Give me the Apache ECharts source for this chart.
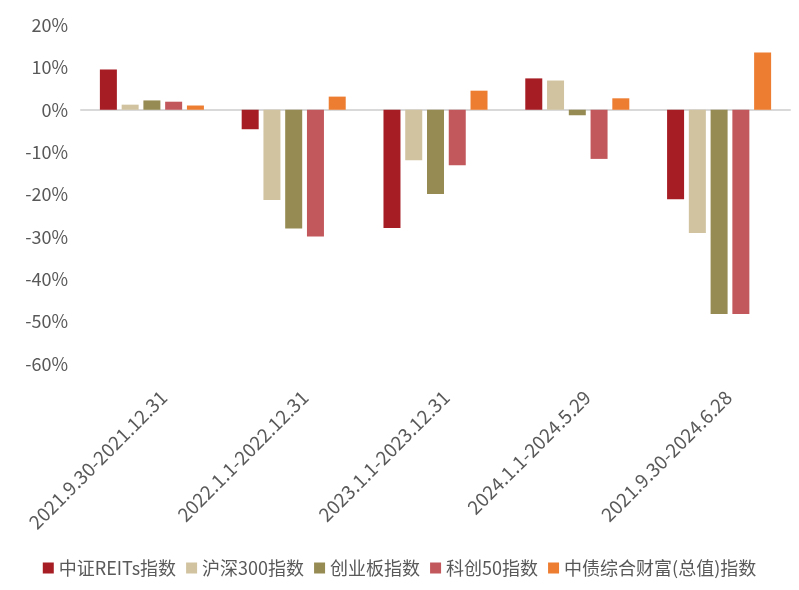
<!DOCTYPE html>
<html>
<head>
<meta charset="utf-8">
<script src="https://cdn.jsdelivr.net/npm/echarts@6/dist/echarts.min.js"></script>
<style>
  html, body { margin: 0; padding: 0; background: #fff; }
  #chart { width: 799px; height: 590px; }
</style>
</head>
<body>
<div id="chart"></div>
<script>
// periods on the x axis
const periods = ['2021.9.30-2021.12.31', '2022.1.1-2022.12.31', '2023.1.1-2023.12.31', '2024.1.1-2024.5.29', '2021.9.30-2024.6.28']

// returns in %
const reits = [9.5, -4.6, -27.9, 7.4, -21.1]
const hs300 = [1.2, -21.3, -11.9, 6.9, -29.1]
const chinext = [2.2, -28.0, -19.9, -1.3, -48.2]
const star50 = [1.9, -29.9, -13.1, -11.6, -48.2]
const bondIndex = [1.0, 3.1, 4.5, 2.7, 13.5]

const seriesNames = ['中证REITs指数', '沪深300指数', '创业板指数', '科创50指数', '中债综合财富(总值)指数']
const colors = ['#A61D24', '#D1C3A0', '#968B52', '#C3585C', '#ED7D31']
const values = [reits, hs300, chinext, star50, bondIndex]

const font = '"Noto Sans CJK SC", "Noto Sans", sans-serif'
const textColor = '#595959'

const chart = echarts.init(document.getElementById('chart'))

const option = {
  animation: false,
  color: colors,
  textStyle: { fontFamily: font },
  grid: [
    { left: 81, right: 9, top: 25, bottom: 226 },
    // only carries the rotated period labels, shifted a bit to the right
    { left: 93, right: -3, top: 25, bottom: 226 }
  ],
  legend: {
    data: seriesNames,
    left: 'center',
    top: 554,
    icon: 'rect',
    itemWidth: 11,
    itemHeight: 11,
    itemGap: 10,
    textStyle: { fontSize: 18, color: textColor, fontFamily: font }
  },
  xAxis: [
    {
      type: 'category',
      gridIndex: 0,
      data: periods,
      axisLine: { onZero: true, lineStyle: { color: '#D9D9D9', width: 2 } },
      axisTick: { show: false },
      axisLabel: { show: false }
    },
    {
      type: 'category',
      gridIndex: 1,
      position: 'bottom',
      data: periods,
      axisLine: { show: false },
      axisTick: { show: false },
      axisLabel: {
        rotate: 45,
        margin: 30,
        fontSize: 19,
        color: textColor,
        fontFamily: font,
        interval: 0
      }
    }
  ],
  yAxis: [
    {
      type: 'value',
      gridIndex: 0,
      min: -60,
      max: 20,
      interval: 10,
      axisLine: { show: false },
      axisTick: { show: false },
      splitLine: { show: false },
      axisLabel: {
        formatter: '{value}%',
        fontSize: 18,
        color: textColor,
        fontFamily: font,
        margin: 13
      }
    },
    { type: 'value', gridIndex: 1, show: false, min: -60, max: 20 }
  ],
  series: seriesNames.map((name, i) => ({
    name: name,
    type: 'bar',
    xAxisIndex: 0,
    yAxisIndex: 0,
    data: values[i],
    barWidth: 17,
    barGap: '28%'
  }))
}

chart.setOption(option)
</script>
</body>
</html>
